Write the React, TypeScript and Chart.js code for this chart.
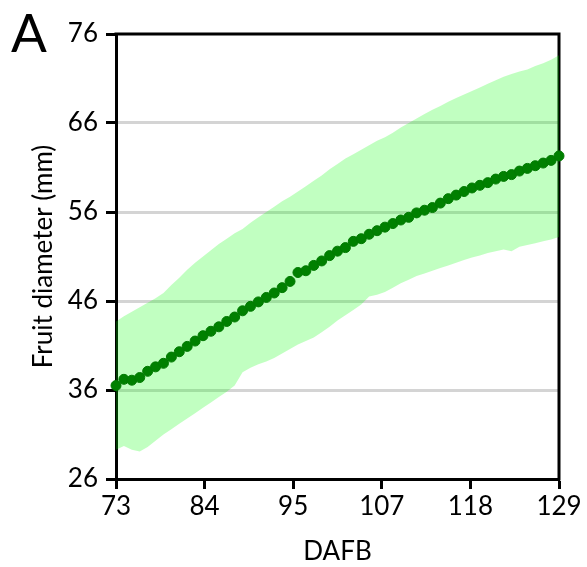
import React, { useEffect, useRef } from "react";
import { Chart, registerables } from "chart.js";

Chart.register(...registerables);

const days = [
  73, 74, 75, 76, 77, 78, 79, 80, 81, 82, 83, 84, 85, 86, 87, 88, 89, 90, 91,
  92, 93, 94, 95, 96, 97, 98, 99, 100, 101, 102, 103, 104, 105, 106, 107, 108,
  109, 110, 111, 112, 113, 114, 115, 116, 117, 118, 119, 120, 121, 122, 123,
  124, 125, 126, 127, 128, 129,
];

const meanDiameter = [
  36.5, 37.2, 37.1, 37.4, 38.1, 38.6, 39.0, 39.7, 40.3, 40.9, 41.5, 42.1, 42.6,
  43.1, 43.7, 44.2, 44.9, 45.4, 45.9, 46.4, 46.9, 47.5, 48.2, 49.2, 49.4, 50.0,
  50.5, 51.1, 51.6, 52.0, 52.7, 53.0, 53.5, 53.9, 54.3, 54.7, 55.1, 55.4, 55.9,
  56.2, 56.5, 57.0, 57.5, 57.9, 58.3, 58.7, 59.0, 59.3, 59.7, 60.0, 60.2, 60.6,
  60.9, 61.2, 61.5, 61.8, 62.3,
];

const upperBound = [
  43.7, 44.3, 44.8, 45.3, 45.8, 46.3, 46.9, 47.8, 48.6, 49.5, 50.3, 51.0, 51.7,
  52.4, 53.0, 53.6, 54.1, 54.8, 55.4, 56.0, 56.6, 57.2, 57.7, 58.3, 58.9, 59.5,
  60.1, 60.8, 61.4, 62.0, 62.5, 63.0, 63.5, 64.0, 64.4, 64.9, 65.5, 66.0, 66.5,
  67.0, 67.5, 67.9, 68.4, 68.8, 69.2, 69.6, 70.0, 70.4, 70.8, 71.2, 71.5, 71.8,
  72.0, 72.4, 72.7, 73.1, 73.6,
];

const lowerBound = [
  29.3, 29.7, 29.3, 29.1, 29.6, 30.3, 31.0, 31.6, 32.2, 32.8, 33.4, 34.0, 34.6,
  35.2, 35.8, 36.5, 38.0, 38.5, 38.9, 39.2, 39.6, 40.1, 40.6, 41.1, 41.5, 41.9,
  42.5, 43.1, 43.8, 44.4, 45.0, 45.6, 46.5, 46.7, 47.0, 47.5, 48.0, 48.4, 48.8,
  49.1, 49.4, 49.7, 50.0, 50.3, 50.6, 50.9, 51.1, 51.4, 51.6, 51.8, 51.6, 52.1,
  52.3, 52.5, 52.7, 52.9, 53.2,
];

const xTickValues = [73, 84.2, 95.4, 106.6, 117.8, 129];
const xTickLabels = ["73", "84", "95", "107", "118", "129"];
const yTickValues = [26, 36, 46, 56, 66, 76];

const FONT = "Lato, 'Open Sans', sans-serif";

const framePlugin = {
  id: "frame",
  beforeDatasetsDraw(chart: any) {
    const { ctx, chartArea } = chart;
    ctx.save();
    ctx.strokeStyle = "#000";
    ctx.lineWidth = 3;
    ctx.beginPath();
    ctx.moveTo(chartArea.left - 1.5, chartArea.top);
    ctx.lineTo(chartArea.right, chartArea.top);
    ctx.lineTo(chartArea.right, chartArea.bottom + 1.5);
    ctx.stroke();
    ctx.restore();
  },
  afterDraw(chart: any) {
    const { ctx } = chart;
    ctx.save();
    ctx.fillStyle = "#000";
    ctx.font = `53px ${FONT}`;
    ctx.textAlign = "left";
    ctx.textBaseline = "alphabetic";
    ctx.fillText("A", 11, 52);
    ctx.restore();
  },
};

export default function App() {
  const canvasRef = useRef<HTMLCanvasElement | null>(null);

  useEffect(() => {
    document.body.style.margin = "0";
    const canvas = canvasRef.current;
    if (!canvas) return;
    const toPts = (arr: number[]) => arr.map((v, i) => ({ x: days[i], y: v }));
    const chart = new Chart(canvas, {
      type: "line",
      data: {
        datasets: [
          {
            label: "Mean",
            data: toPts(meanDiameter),
            showLine: false,
            pointRadius: 5,
            pointBackgroundColor: "#008000",
            pointBorderColor: "#007a00",
            pointBorderWidth: 1,
            borderColor: "#008000",
            clip: false as any,
          },
          {
            label: "Upper",
            data: toPts(upperBound),
            borderWidth: 0,
            pointRadius: 0,
            borderColor: "rgba(0,0,0,0)",
            backgroundColor: "rgba(0,255,0,0.245)",
            fill: "+1",
          },
          {
            label: "Lower",
            data: toPts(lowerBound),
            borderWidth: 0,
            pointRadius: 0,
            borderColor: "rgba(0,0,0,0)",
            fill: false,
          },
        ],
      },
      plugins: [framePlugin],
      options: {
        animation: false,
        responsive: true,
        maintainAspectRatio: false,
        layout: { padding: { top: 34, right: 28, left: 0, bottom: 0 } },
        plugins: {
          legend: { display: false },
          tooltip: { enabled: false },
        },
        scales: {
          x: {
            type: "linear",
            min: 73,
            max: 129,
            afterBuildTicks: (scale: any) => {
              scale.ticks = xTickValues.map((v) => ({ value: v }));
            },
            afterFit: (scale: any) => {
              scale.height = 88;
            },
            ticks: {
              autoSkip: false,
              maxRotation: 0,
              padding: 2,
              color: "#000",
              font: { family: FONT, size: 26 },
              callback: (_v: any, i: number) => xTickLabels[i],
            },
            grid: {
              drawOnChartArea: false,
              drawTicks: true,
              tickLength: 10,
              tickWidth: 3,
              tickColor: "#000",
            },
            border: { display: true, color: "#000", width: 3 },
            title: {
              display: true,
              text: "DAFB",
              color: "#000",
              font: { family: FONT, size: 26 },
              padding: { top: 0, bottom: 0 },
            },
          },
          y: {
            type: "linear",
            min: 26,
            max: 76,
            afterBuildTicks: (scale: any) => {
              scale.ticks = yTickValues.map((v) => ({ value: v }));
            },
            afterFit: (scale: any) => {
              scale.width = 116;
            },
            ticks: {
              padding: 8,
              color: "#000",
              font: { family: FONT, size: 26 },
              callback: (v: any) => String(v),
            },
            grid: {
              color: (ctx: any) =>
                ctx.tick && (ctx.tick.value === 26 || ctx.tick.value === 76)
                  ? "rgba(0,0,0,0)"
                  : "rgba(0,0,0,0.17)",
              lineWidth: 3,
              drawTicks: true,
              tickLength: 10,
              tickWidth: 3,
              tickColor: "#000",
            },
            border: { display: true, color: "#000", width: 3 },
            title: {
              display: true,
              text: "Fruit diameter (mm)",
              color: "#000",
              font: { family: FONT, size: 26 },
              padding: { top: 28, bottom: 0 },
            },
          },
        },
      },
    });
    return () => chart.destroy();
  }, []);

  return (
    <div style={{ width: 587, height: 567, position: "relative" }}>
      <canvas ref={canvasRef} />
    </div>
  );
}
